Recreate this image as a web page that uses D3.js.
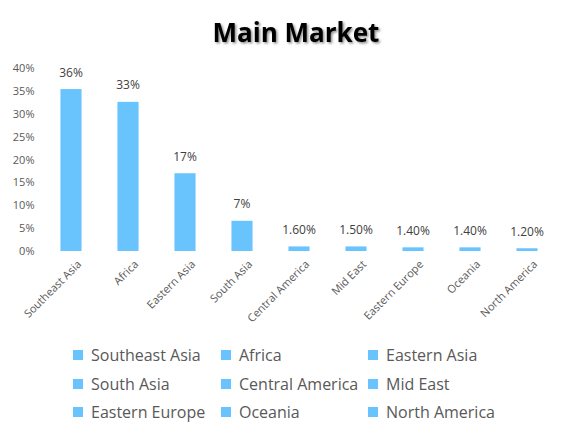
<!DOCTYPE html>
<html><head><meta charset="utf-8">
<script src="https://cdn.jsdelivr.net/npm/d3@7/dist/d3.min.js"></script>
<style>
html,body{margin:0;padding:0;background:#fff;}
svg{display:block;}
</style></head>
<body>
<svg id="chart" width="570" height="438"></svg>
<script>
const categories = ["Southeast Asia","Africa","Eastern Asia","South Asia","Central America","Mid East","Eastern Europe","Oceania","North America"];
const values = [35.4, 32.6, 17.0, 6.6, 1.0, 1.0, 0.8, 0.8, 0.6];
const valueLabels = ["36%","33%","17%","7%","1.60%","1.50%","1.40%","1.40%","1.20%"];
const yTicks = [0,5,10,15,20,25,30,35,40];
const title = "Main Market";

const svg = d3.select("#chart");
const font = "'Open Sans', 'Noto Sans', sans-serif";
const barColor = "#69C4FE";
const plotLeft = 42.5, plotRight = 555.5, plotTop = 68, plotBottom = 251;

const defs = svg.append("defs");
const f = defs.append("filter").attr("id","sh").attr("x","-10%").attr("y","-20%").attr("width","130%").attr("height","160%");
f.append("feDropShadow").attr("dx",1.5).attr("dy",1.5).attr("stdDeviation",1.2).attr("flood-color","#000").attr("flood-opacity",0.45);

svg.append("text").attr("x",296).attr("y",42).attr("text-anchor","middle")
  .attr("font-family",font).attr("font-weight",700).attr("font-size",26)
  .attr("fill","#000").attr("filter","url(#sh)").text(title);

const x = d3.scaleBand().domain(categories).range([plotLeft,plotRight]).paddingInner(0.63).paddingOuter(0.315);
const y = d3.scaleLinear().domain([0,40]).range([plotBottom,plotTop]);

const yAxis = d3.axisLeft(y).tickValues(yTicks).tickFormat(d=>d+"%").tickSize(0).tickPadding(8);
const gy = svg.append("g").attr("transform",`translate(${plotLeft},0)`).call(yAxis);
gy.select(".domain").remove();
gy.selectAll("text").attr("font-family",font).attr("font-size",11).attr("fill","#595959");

svg.append("g").selectAll("rect").data(categories).join("rect")
  .attr("x",d=>x(d)).attr("width",x.bandwidth())
  .attr("y",(d,i)=>y(values[i])).attr("height",(d,i)=>plotBottom-y(values[i]))
  .attr("fill",barColor);

svg.append("g").selectAll("text").data(categories).join("text")
  .attr("x",d=>x(d)+x.bandwidth()/2).attr("y",(d,i)=>y(values[i])-12.5)
  .attr("text-anchor","middle").attr("font-family",font).attr("font-size",12)
  .attr("fill","#404040").text((d,i)=>valueLabels[i]);

const xAxis = d3.axisBottom(x).tickSize(0).tickPadding(0);
const gx = svg.append("g").attr("transform",`translate(0,${plotBottom})`).call(xAxis);
gx.select(".domain").remove();
gx.selectAll("text").attr("font-family",font).attr("font-size",11).attr("fill","#595959")
  .attr("text-anchor","end").attr("dy",null).attr("y",0)
  .attr("transform","translate(11,14) rotate(-45)");

const cols = [73, 221, 368];
const rows = [355, 384, 412];
const lg = svg.append("g").selectAll("g").data(categories).join("g")
  .attr("transform",(d,i)=>`translate(${cols[i%3]},${rows[Math.floor(i/3)]})`);
lg.append("rect").attr("x",0).attr("y",-5).attr("width",10).attr("height",10).attr("fill",barColor);
lg.append("text").attr("x",18).attr("y",0).attr("dy","0.35em")
  .attr("font-family",font).attr("font-size",16).attr("fill","#595959").text(d=>d);
</script>
</body></html>
